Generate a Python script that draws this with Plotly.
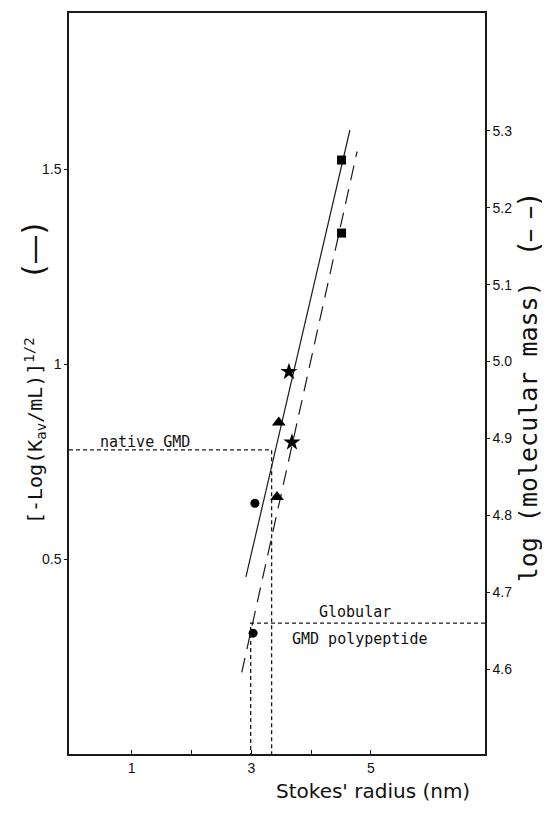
import plotly.graph_objs as go

# solid line points (left axis: [-log(Kav/mL)]^1/2)
solid_x = [4.51, 3.63, 3.46, 3.06]
solid_y = [1.523, 0.98, 0.85, 0.643]
# dashed line points (right axis: log molecular mass)
dash_x = [4.51, 3.68, 3.43, 3.03]
dash_y = [5.167, 4.895, 4.824, 4.647]
symbols = ["square", "star", "triangle-up", "circle"]
sizes = [9, 13, 12, 9]

# fitted lines, end points
solid_fit_x = [2.91, 4.65]
solid_fit_y = [0.454, 1.60]
dash_fit_x = [2.84, 4.77]
dash_fit_y = [4.596, 5.273]

# reference read-offs
native_r, native_y = 3.34, 0.78
poly_r, poly_y = 2.99, 4.66

x_ticks = [1, 3, 5]
x_labels = ["1", "3", "5"]
x_minor = [2, 4]
left_ticks = [0.5, 1, 1.5]
left_labels = ["0.5", "1", "1.5"]
right_ticks = [4.6, 4.7, 4.8, 4.9, 5.0, 5.1, 5.2, 5.3]
right_labels = ["4.6", "4.7", "4.8", "4.9", "5.0", "5.1", "5.2", "5.3"]

INK = "#1a1a1a"
X_RANGE = [-0.05, 6.91]

fig = go.Figure()

marker_style = {"symbol": symbols, "size": sizes, "color": "black",
                "opacity": 1, "line": {"width": 0}}

fig.add_trace(go.Scatter(x=solid_fit_x, y=solid_fit_y, mode="lines",
                         line={"color": INK, "width": 1.2}, showlegend=False))
fig.add_trace(go.Scatter(x=solid_x, y=solid_y, mode="markers",
                         marker=marker_style, showlegend=False))
fig.add_trace(go.Scatter(x=dash_fit_x, y=dash_fit_y, mode="lines", yaxis="y2",
                         line={"color": INK, "width": 1.2, "dash": "15px,9px"}, showlegend=False))
fig.add_trace(go.Scatter(x=dash_x, y=dash_y, mode="markers", yaxis="y2",
                         marker=marker_style, showlegend=False))

# dotted read-off lines
dot = {"color": INK, "width": 1.3, "dash": "4px,3px"}
fig.add_trace(go.Scatter(x=[X_RANGE[0], native_r, native_r], y=[native_y, native_y, 0],
                         mode="lines", line=dot, showlegend=False))
fig.add_trace(go.Scatter(x=[X_RANGE[1], poly_r, poly_r], y=[poly_y, poly_y, 4.49],
                         mode="lines", yaxis="y2", line=dot, showlegend=False))

tick_font = {"family": "Liberation Sans, Arial", "size": 14, "color": "#111111"}
label_font = {"family": "DejaVu Sans Mono", "size": 15, "color": "#111111"}
title_font = {"family": "DejaVu Sans", "size": 20, "color": "#111111"}
side_font = {"family": "DejaVu Sans Mono", "size": 25, "color": "#111111"}

annotations = [
    dict(x=0.43, y=0.80, xref="x", yref="y", text="native GMD", showarrow=False,
         xanchor="left", yanchor="middle", font=label_font),
    dict(x=4.10, y=4.674, xref="x", yref="y2", text="Globular", showarrow=False,
         xanchor="left", yanchor="middle", font=label_font),
    dict(x=3.64, y=4.640, xref="x", yref="y2", text="GMD polypeptide", showarrow=False,
         xanchor="left", yanchor="middle", font=label_font),
    dict(x=0.731, y=-0.05, xref="paper", yref="paper", text="Stokes' radius (nm)",
         showarrow=False, xanchor="center", yanchor="middle", font=title_font),
    dict(x=-0.082, y=0.437, xref="paper", yref="paper",
         text="[-Log(K<sub>av</sub>/mL)]<sup>1/2</sup>", textangle=-90,
         showarrow=False, xanchor="center", yanchor="middle", font={**side_font, "size": 20}),
    dict(x=-0.0865, y=0.68, xref="paper", yref="paper", text="(—)", textangle=-90,
         showarrow=False, xanchor="center", yanchor="middle", font={**title_font, "size": 30}),
    dict(x=1.105, y=0.435, xref="paper", yref="paper", text="log (molecular mass)",
         textangle=-90, showarrow=False, xanchor="center", yanchor="middle", font=side_font),
    dict(x=1.108, y=0.716, xref="paper", yref="paper", text="(– –)", textangle=-90,
         showarrow=False, xanchor="center", yanchor="middle", font={**title_font, "size": 28}),
]

fig.update_layout(
    width=542,
    height=814,
    margin={"l": 61, "r": 65, "t": 3, "b": 68},
    paper_bgcolor="white",
    plot_bgcolor="white",
    showlegend=False,
    annotations=annotations,
    xaxis={
        "range": X_RANGE,
        "tickvals": x_ticks,
        "ticktext": x_labels,
        "ticks": "inside",
        "ticklen": 4,
        "tickcolor": INK,
        "minor": {"tickvals": x_minor, "ticks": "inside", "ticklen": 4, "tickcolor": INK},
        "showgrid": False,
        "zeroline": False,
        "showline": True,
        "linecolor": INK,
        "linewidth": 1.5,
        "mirror": True,
        "tickfont": tick_font,
    },
    yaxis={
        "range": [0, 1.9],
        "tickvals": left_ticks,
        "ticktext": left_labels,
        "ticks": "outside",
        "ticklen": 3,
        "tickcolor": INK,
        "showgrid": False,
        "zeroline": False,
        "showline": True,
        "linecolor": INK,
        "linewidth": 1.5,
        "tickfont": tick_font,
    },
    yaxis2={
        "range": [4.49, 5.453],
        "overlaying": "y",
        "side": "right",
        "tickvals": right_ticks,
        "ticktext": right_labels,
        "ticks": "outside",
        "ticklen": 3,
        "tickcolor": INK,
        "showgrid": False,
        "zeroline": False,
        "showline": True,
        "linecolor": INK,
        "linewidth": 1.5,
        "tickfont": tick_font,
    },
)

fig.write_html("out.html")
